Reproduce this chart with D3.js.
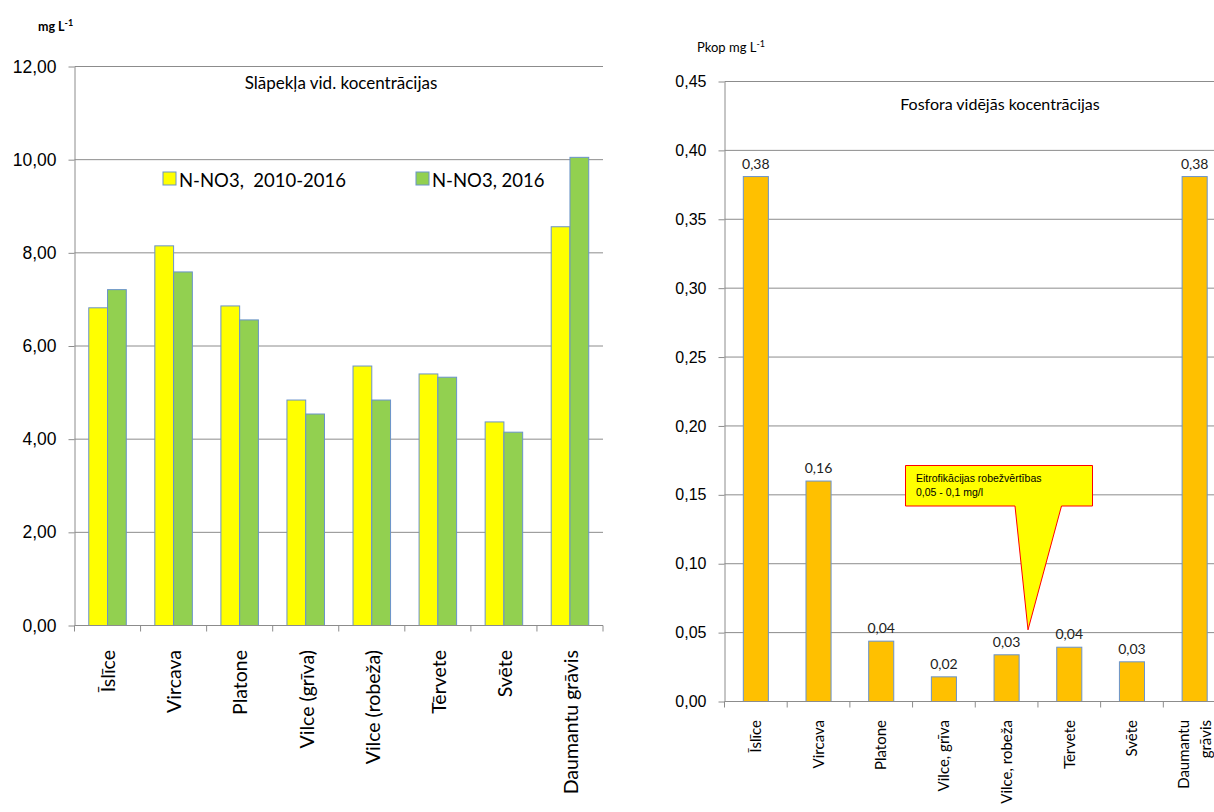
<!doctype html>
<html lang="lv">
<head>
    <meta charset="UTF-8">
    <title>Slāpekļa un fosfora koncentrācijas</title>
    <script type="text/javascript" src="https://cdn.jsdelivr.net/npm/d3@7/dist/d3.min.js"></script>
    <style type="text/css">
        body { margin: 0; background: #fff; }
        svg { font-family: Lato, Carlito, Calibri, sans-serif; }
        .grid line { stroke: #8c8c8c; stroke-width: 1; }
        .axis path, .axis line { stroke: #8c8c8c; }
        .axis text { fill: #000; }
    </style>
</head>
<body>
<script type="text/javascript">
    // --- nitrogen chart data
    var nCategories = ["Īslīce", "Vircava", "Platone", "Vilce (grīva)", "Vilce (robeža)", "Tērvete", "Svēte", "Daumantu grāvis"];
    var nSeries = ["N-NO3,  2010-2016", "N-NO3, 2016"];
    var nAvg = [6.82, 8.15, 6.86, 4.84, 5.57, 5.40, 4.37, 8.56];
    var n2016 = [7.21, 7.59, 6.56, 4.54, 4.84, 5.33, 4.15, 10.05];
    var nTicks = [0, 2, 4, 6, 8, 10, 12];

    // --- phosphorus chart data
    var pCategories = ["Īslīce", "Vircava", "Platone", "Vilce, grīva", "Vilce, robeža", "Tērvete", "Svēte", "Daumantu\ngrāvis"];
    var pValues = [0.381, 0.160, 0.0438, 0.0179, 0.0339, 0.0394, 0.0288, 0.381];
    var pTicks = [0, 0.05, 0.10, 0.15, 0.20, 0.25, 0.30, 0.35, 0.40, 0.45];

    var colors = {avg: "#ffff00", y2016: "#92d050", p: "#ffc000", edge: "#6a93cb"};
    var comma = function (d) { return d.toFixed(2).replace(".", ","); };

    var svg = d3.select("body").append("svg").attr("width", 1214).attr("height", 812);

    // ================= left chart =================
    var lx = d3.scaleBand().domain(nCategories).range([74.5, 603]);
    var lx1 = d3.scaleBand().domain(nSeries)
        .range([lx.bandwidth() * 0.216, lx.bandwidth() * 0.784]);
    var ly = d3.scaleLinear().domain([0, 12]).range([625.5, 66.5]);
    var left = svg.append("g");

    left.append("g").attr("class", "grid")
        .selectAll("line").data(nTicks.slice(1)).enter().append("line")
        .attr("x1", lx.range()[0]).attr("x2", lx.range()[1])
        .attr("y1", function (d) { return ly(d); })
        .attr("y2", function (d) { return ly(d); });

    var nRows = nCategories.map(function (c, i) {
        return {cat: c, vals: [{s: nSeries[0], v: nAvg[i], c: colors.avg}, {s: nSeries[1], v: n2016[i], c: colors.y2016}]};
    });
    left.selectAll("g.cat").data(nRows).enter().append("g")
        .attr("class", "cat")
        .attr("transform", function (d) { return "translate(" + lx(d.cat) + ",0)"; })
        .selectAll("rect").data(function (d) { return d.vals; }).enter().append("rect")
        .attr("x", function (d) { return lx1(d.s); })
        .attr("width", lx1.bandwidth())
        .attr("y", function (d) { return ly(d.v); })
        .attr("height", function (d) { return ly(0) - ly(d.v); })
        .attr("fill", function (d) { return d.c; })
        .attr("stroke", colors.edge).attr("stroke-width", 1);

    left.append("g").attr("class", "axis")
        .attr("transform", "translate(" + lx.range()[0] + ",0)")
        .call(d3.axisLeft(ly).tickValues(nTicks).tickSize(6).tickSizeOuter(0).tickPadding(12).tickFormat(comma))
        .selectAll("text").attr("font-size", "17.5px");

    // x axis line + ticks on band boundaries
    var lBounds = d3.range(nCategories.length + 1).map(function (i) { return lx.range()[0] + i * lx.step(); });
    left.append("line").attr("x1", lx.range()[0]).attr("x2", lx.range()[1])
        .attr("y1", ly(0)).attr("y2", ly(0)).attr("stroke", "#8c8c8c");
    left.selectAll("line.xt").data(lBounds).enter().append("line").attr("class", "xt")
        .attr("x1", function (d) { return d; }).attr("x2", function (d) { return d; })
        .attr("y1", ly(0)).attr("y2", ly(0) + 6).attr("stroke", "#8c8c8c");
    left.selectAll("text.xl").data(nCategories).enter().append("text").attr("class", "xl")
        .attr("transform", function (d) { return "translate(" + (lx(d) + lx.bandwidth() / 2 + 1) + "," + 650 + ") rotate(-90)"; })
        .attr("text-anchor", "end").attr("dy", "0.35em")
        .attr("font-size", "19.5px")
        .text(function (d) { return d; });

    left.append("text").attr("x", 341).attr("y", 89).attr("text-anchor", "middle")
        .attr("font-size", "17px").text("Slāpekļa vid. kocentrācijas");

    var unitL = left.append("text").attr("x", 38).attr("y", 31).attr("font-size", "12.5px").attr("font-weight", "bold");
    unitL.append("tspan").text("mg L");
    unitL.append("tspan").attr("dy", "-5").attr("font-size", "9px").text("-1");

    // legend
    var legX = [163, 416];
    var leg = left.selectAll("g.leg").data(nSeries).enter().append("g").attr("class", "leg")
        .attr("transform", function (d, i) { return "translate(" + legX[i] + ",172)"; });
    leg.append("rect").attr("width", 13).attr("height", 13)
        .attr("fill", function (d, i) { return i === 0 ? colors.avg : colors.y2016; })
        .attr("stroke", colors.edge);
    leg.append("text").attr("x", 16).attr("y", 14.5).attr("font-size", "18.5px")
        .style("white-space", "pre").text(function (d) { return d; });

    // ================= right chart =================
    var rx = d3.scaleBand().domain(pCategories).range([724.5, 1226]).paddingInner(0.6).paddingOuter(0.3);
    var ry = d3.scaleLinear().domain([0, 0.45]).range([701.5, 81.5]);
    var right = svg.append("g");
    var rStart = 724.5, rEnd = 1226;

    right.append("g").attr("class", "grid")
        .selectAll("line").data(pTicks.slice(1)).enter().append("line")
        .attr("x1", rStart).attr("x2", rEnd)
        .attr("y1", function (d) { return ry(d); })
        .attr("y2", function (d) { return ry(d); });

    right.selectAll("rect.pb").data(pValues).enter().append("rect").attr("class", "pb")
        .attr("x", function (d, i) { return rx(pCategories[i]); })
        .attr("width", rx.bandwidth())
        .attr("y", function (d) { return ry(d); })
        .attr("height", function (d) { return ry(0) - ry(d); })
        .attr("fill", colors.p).attr("stroke", colors.edge);

    right.selectAll("text.pv").data(pValues).enter().append("text").attr("class", "pv")
        .attr("x", function (d, i) { return rx(pCategories[i]) + rx.bandwidth() / 2; })
        .attr("y", function (d) { return ry(d) - 8; })
        .attr("text-anchor", "middle").attr("font-size", "14px").attr("fill", "#222")
        .text(comma);

    right.append("g").attr("class", "axis")
        .attr("transform", "translate(" + rStart + ",0)")
        .call(d3.axisLeft(ry).tickValues(pTicks).tickSize(6).tickSizeOuter(0).tickPadding(12).tickFormat(comma))
        .selectAll("text").attr("font-size", "16px");

    var rStep = (rEnd - rStart) / pCategories.length;
    var rBounds = d3.range(pCategories.length + 1).map(function (i) { return rStart + i * rStep; });
    right.append("line").attr("x1", rStart).attr("x2", rEnd)
        .attr("y1", ry(0)).attr("y2", ry(0)).attr("stroke", "#8c8c8c");
    right.selectAll("line.xt").data(rBounds).enter().append("line").attr("class", "xt")
        .attr("x1", function (d) { return d; }).attr("x2", function (d) { return d; })
        .attr("y1", ry(0)).attr("y2", ry(0) + 6).attr("stroke", "#8c8c8c");

    var rl = right.selectAll("text.xl").data(pCategories).enter().append("text").attr("class", "xl")
        .attr("transform", function (d) { return "translate(" + (rx(d) + rx.bandwidth() / 2) + "," + 720 + ") rotate(-90)"; })
        .attr("text-anchor", "end").attr("font-size", "15px");
    rl.selectAll("tspan").data(function (d) {
        var parts = d.split("\n");
        return parts.map(function (p, k) { return {t: p, k: k, n: parts.length}; });
    }).enter().append("tspan")
        .attr("x", 0)
        .attr("y", function (d) { return (d.k - (d.n - 1) / 2) * 22; })
        .attr("dy", "0.35em")
        .text(function (d) { return d.t; });

    right.append("text").attr("x", 1000).attr("y", 110).attr("text-anchor", "middle")
        .attr("font-size", "16px").text("Fosfora vidējās kocentrācijas");

    var unitR = right.append("text").attr("x", 697).attr("y", 52).attr("font-size", "13px");
    unitR.append("tspan").text("Pkop mg L");
    unitR.append("tspan").attr("dy", "-5").attr("font-size", "9px").text("-1");

    // callout: eutrophication thresholds
    var box = {x0: 905.5, x1: 1092.5, y0: 465.5, y1: 506, b0: 1015, b1: 1061.5, tipX: 1028, tipY: ry(0.052)};
    var callout = right.append("g");
    callout.append("path")
        .attr("d", "M" + box.x0 + "," + box.y0 + "H" + box.x1 + "V" + box.y1 + "H" + box.b1 +
            "L" + box.tipX + "," + box.tipY + "L" + box.b0 + "," + box.y1 + "H" + box.x0 + "Z")
        .attr("fill", "#ffff00").attr("stroke", "#ff0000").attr("stroke-width", 1);
    var ct = callout.append("text").attr("font-family", "'Liberation Sans', Arial, sans-serif")
        .attr("font-size", "10.5px").attr("fill", "#000");
    ct.append("tspan").attr("x", 916).attr("y", 482).text("Eitrofikācijas robežvērtības");
    ct.append("tspan").attr("x", 916).attr("y", 495.5).text("0,05 - 0,1 mg/l");
</script>
</body>
</html>
